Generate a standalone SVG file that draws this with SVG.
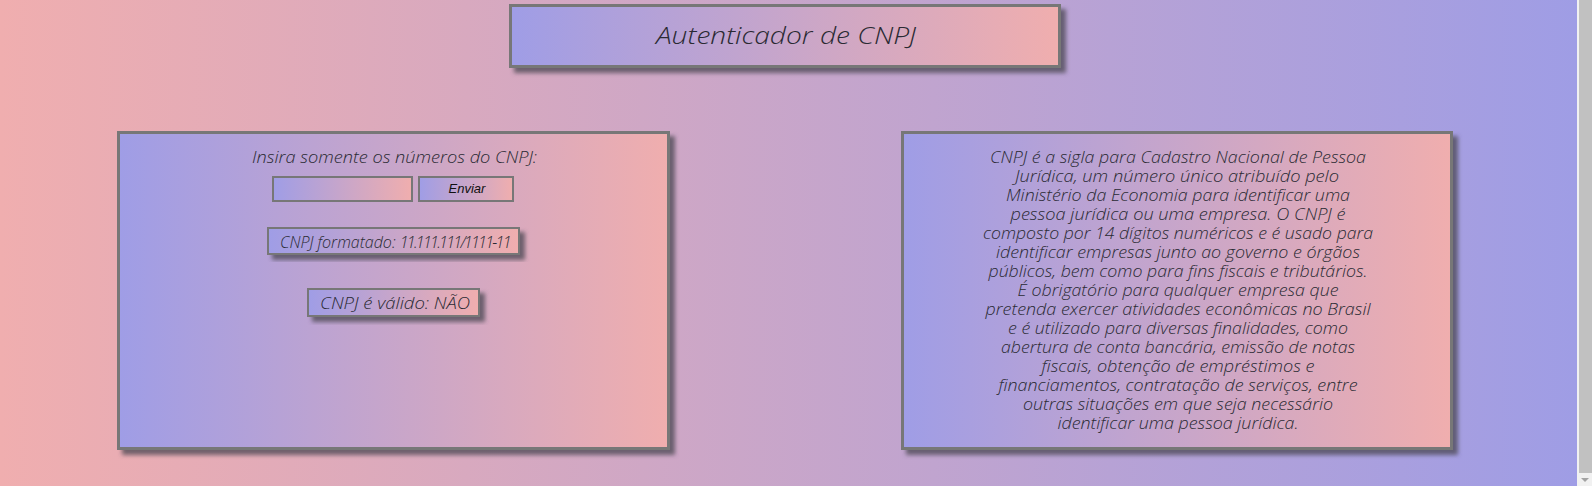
<svg xmlns="http://www.w3.org/2000/svg" width="1592" height="486" viewBox="0 0 1592 486">
<style>
.box{stroke:#777;stroke-width:3;fill:url(#boxg)}
.sm{stroke:#777;stroke-width:2;fill:url(#boxg)}
.t{font-family:"Open Sans","Lato","Noto Sans",sans-serif;font-style:italic;font-weight:300;fill:#2a2a33;text-anchor:middle}
.b{font-size:16px}
.btn{font-family:"Liberation Sans",Arial,sans-serif;font-style:italic;font-size:13px;fill:#111;text-anchor:middle}
</style>
<defs>
<linearGradient id="bg" x1="0" y1="0" x2="1" y2="0">
<stop offset="0" stop-color="#f0aeaf"/>
<stop offset="1" stop-color="#9f9de5"/>
</linearGradient>
<linearGradient id="boxg" x1="0" y1="0" x2="1" y2="0">
<stop offset="0" stop-color="#9f9de6"/>
<stop offset="1" stop-color="#f0aeae"/>
</linearGradient>
<filter id="sh" x="-10%" y="-10%" width="130%" height="140%">
<feDropShadow dx="5" dy="5" stdDeviation="2.2" flood-color="#4a4652" flood-opacity="0.75"/>
</filter>
</defs>
<rect x="0" y="0" width="1577" height="486" fill="url(#bg)"/>
<g id="scrollbar">
<rect x="1577" y="0" width="15" height="486" fill="#f1f1f1"/>
<rect x="1579" y="0" width="13" height="473" fill="#c1c1c1"/>
<polygon points="1581,478 1589,478 1585,482" fill="#a3a3a3"/>
</g>
<g id="title">
<rect class="box" x="510.5" y="5.5" width="549" height="61" filter="url(#sh)"/>
<text class="t" x="786" y="44" font-size="24" textLength="260" lengthAdjust="spacingAndGlyphs">Autenticador de CNPJ</text>
</g>
<g id="form-panel">
<rect class="box" x="118.5" y="132.5" width="550" height="316" filter="url(#sh)"/>
<text class="t b" x="394.5" y="163" textLength="285" lengthAdjust="spacingAndGlyphs">Insira somente os números do CNPJ:</text>
</g>
<g id="input">
<rect class="sm" x="273" y="177" width="139" height="24"/>
</g>
<g id="button">
<rect class="sm" x="419" y="177" width="94" height="24"/>
<text class="btn" x="467" y="193">Enviar</text>
</g>
<g id="formatted">
<rect class="sm" x="268" y="228" width="251" height="26" filter="url(#sh)"/>
<text class="t b" x="280" y="248" style="text-anchor:start">CNPJ formatado: <tspan letter-spacing="-1.7">11.111.111/1111-11</tspan></text>
</g>
<g id="valid">
<rect class="sm" x="308" y="289" width="171" height="27" filter="url(#sh)"/>
<text class="t b" x="395" y="309" textLength="150" lengthAdjust="spacingAndGlyphs">CNPJ é válido: NÃO</text>
</g>
<g id="info-panel">
<rect class="box" x="902.5" y="132.5" width="549" height="316" filter="url(#sh)"/>
<g class="t b">
<text x="1178" y="163" textLength="376" lengthAdjust="spacingAndGlyphs">CNPJ é a sigla para Cadastro Nacional de Pessoa</text>
<text x="1177" y="182" textLength="324" lengthAdjust="spacingAndGlyphs">Jurídica, um número único atribuído pelo</text>
<text x="1178" y="201" textLength="344" lengthAdjust="spacingAndGlyphs">Ministério da Economia para identificar uma</text>
<text x="1178" y="220" textLength="335" lengthAdjust="spacingAndGlyphs">pessoa jurídica ou uma empresa. O CNPJ é</text>
<text x="1178" y="239" textLength="390" lengthAdjust="spacingAndGlyphs">composto por 14 dígitos numéricos e é usado para</text>
<text x="1178" y="258" textLength="364" lengthAdjust="spacingAndGlyphs">identificar empresas junto ao governo e órgãos</text>
<text x="1178" y="277" textLength="379" lengthAdjust="spacingAndGlyphs">públicos, bem como para fins fiscais e tributários.</text>
<text x="1178" y="296" textLength="321" lengthAdjust="spacingAndGlyphs">É obrigatório para qualquer empresa que</text>
<text x="1178" y="315" textLength="385" lengthAdjust="spacingAndGlyphs">pretenda exercer atividades econômicas no Brasil</text>
<text x="1178" y="334" textLength="340" lengthAdjust="spacingAndGlyphs">e é utilizado para diversas finalidades, como</text>
<text x="1178" y="353" textLength="354" lengthAdjust="spacingAndGlyphs">abertura de conta bancária, emissão de notas</text>
<text x="1178" y="372" textLength="273" lengthAdjust="spacingAndGlyphs">fiscais, obtenção de empréstimos e</text>
<text x="1178" y="391" textLength="359" lengthAdjust="spacingAndGlyphs">financiamentos, contratação de serviços, entre</text>
<text x="1178" y="410" textLength="310" lengthAdjust="spacingAndGlyphs">outras situações em que seja necessário</text>
<text x="1178" y="429" textLength="241" lengthAdjust="spacingAndGlyphs">identificar uma pessoa jurídica.</text>
</g>
</g>
</svg>
